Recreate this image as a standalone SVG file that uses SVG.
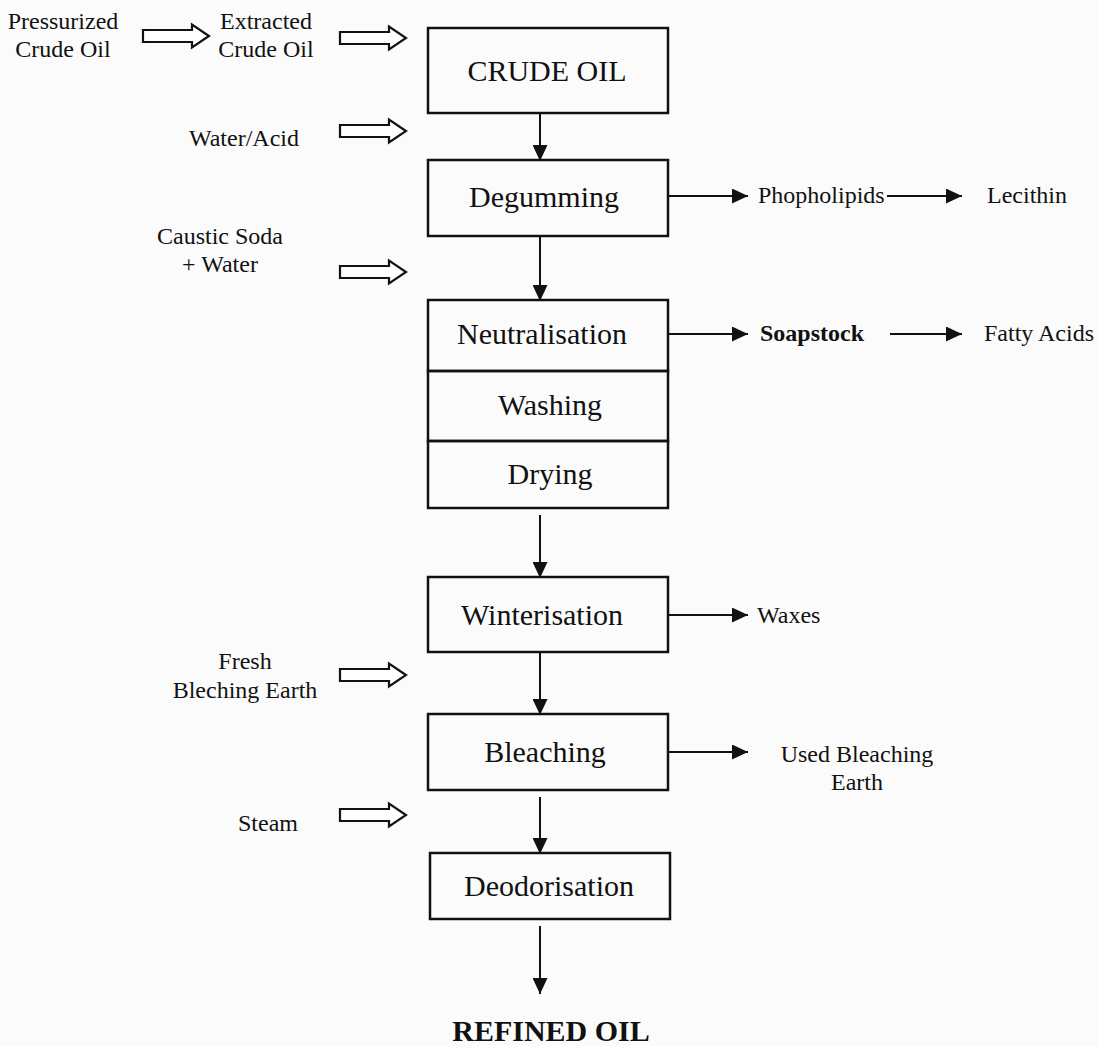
<svg xmlns="http://www.w3.org/2000/svg" width="1098" height="1046" viewBox="0 0 1098 1046">
<style>
text{font-family:"Liberation Serif","Times New Roman",serif;fill:#111;}
.lbl{font-size:24px;text-anchor:middle;}
.lbl-l{font-size:24px;}
.box{fill:none;stroke:#111;stroke-width:2.5;}
.bt{font-size:30px;text-anchor:middle;}
.ln{stroke:#111;stroke-width:2;fill:none;}
.hol{fill:#fff;stroke:#111;stroke-width:2.2;}
</style>
<defs>
<marker id="ah" viewBox="0 0 16 15" refX="16" refY="7.5" markerWidth="16" markerHeight="15" markerUnits="userSpaceOnUse" orient="auto">
<path d="M0,0 L16,7.5 L0,15 Z" fill="#111"/>
</marker>
<path id="hollow" d="M0,-6 H49 V-11.5 L66,0 L49,11.5 V6 H0 Z"/>
</defs>
<rect width="1098" height="1046" fill="#fbfbfb"/>

<g id="inputs">
<g id="in-pressurized"><text class="lbl" x="63" y="29">Pressurized</text><text class="lbl" x="63" y="57">Crude Oil</text></g>
<g id="in-extracted"><text class="lbl" x="266" y="29">Extracted</text><text class="lbl" x="266" y="57">Crude Oil</text></g>
<g id="in-water"><text class="lbl" x="244" y="146">Water/Acid</text></g>
<g id="in-caustic"><text class="lbl" x="220" y="244">Caustic Soda</text><text class="lbl" x="220" y="272">+ Water</text></g>
<g id="in-earth"><text class="lbl" x="245" y="669">Fresh</text><text class="lbl" x="245" y="698">Bleching Earth</text></g>
<g id="in-steam"><text class="lbl" x="268" y="831">Steam</text></g>
</g>

<g id="n-crude"><rect class="box" x="428" y="28" width="240" height="85"/><text class="bt" x="547" y="81">CRUDE OIL</text></g>
<g id="n-degum"><rect class="box" x="428" y="160" width="240" height="76"/><text class="bt" x="544" y="207" font-size="31">Degumming</text></g>
<g id="n-neut"><rect class="box" x="428" y="300" width="240" height="71"/><text class="bt" x="542" y="344" font-size="28">Neutralisation</text></g>
<g id="n-wash"><rect class="box" x="428" y="371" width="240" height="70"/><text class="bt" x="550" y="415">Washing</text></g>
<g id="n-dry"><rect class="box" x="428" y="441" width="240" height="67"/><text class="bt" x="550" y="484">Drying</text></g>
<g id="n-wint"><rect class="box" x="428" y="577" width="240" height="75"/><text class="bt" x="542" y="625" font-size="28">Winterisation</text></g>
<g id="n-bleach"><rect class="box" x="428" y="714" width="240" height="76"/><text class="bt" x="545" y="762" font-size="28">Bleaching</text></g>
<g id="n-deod"><rect class="box" x="430" y="853" width="240" height="66"/><text class="bt" x="549" y="896" font-size="29">Deodorisation</text></g>

<g id="outputs">
<g id="o-phospho"><text class="lbl-l" x="758" y="203">Phopholipids</text></g>
<g id="o-lecithin"><text class="lbl-l" x="987" y="203">Lecithin</text></g>
<g id="o-soap"><text class="lbl-l" x="760" y="341" font-weight="bold">Soapstock</text></g>
<g id="o-fatty"><text class="lbl-l" x="984" y="341">Fatty Acids</text></g>
<g id="o-waxes"><text class="lbl-l" x="757" y="623">Waxes</text></g>
<g id="o-used"><text class="lbl" x="857" y="762">Used Bleaching</text><text class="lbl" x="857" y="790">Earth</text></g>
<g id="o-refined"><text x="551" y="1041" font-size="30" font-weight="bold" text-anchor="middle">REFINED OIL</text></g>
</g>

<g id="connectors">
<use href="#hollow" class="hol" x="143" y="36"/>
<use href="#hollow" class="hol" x="340" y="38"/>
<use href="#hollow" class="hol" x="340" y="131"/>
<use href="#hollow" class="hol" x="340" y="272"/>
<use href="#hollow" class="hol" x="340" y="675"/>
<use href="#hollow" class="hol" x="340" y="815"/>
<line class="ln" x1="540" y1="113" x2="540" y2="161" marker-end="url(#ah)"/>
<line class="ln" x1="540" y1="236" x2="540" y2="301" marker-end="url(#ah)"/>
<line class="ln" x1="540" y1="515" x2="540" y2="578" marker-end="url(#ah)"/>
<line class="ln" x1="540" y1="652" x2="540" y2="715" marker-end="url(#ah)"/>
<line class="ln" x1="540" y1="797" x2="540" y2="854" marker-end="url(#ah)"/>
<line class="ln" x1="540" y1="926" x2="540" y2="994" marker-end="url(#ah)"/>
<line class="ln" x1="668" y1="196" x2="748" y2="196" marker-end="url(#ah)"/>
<line class="ln" x1="887" y1="196" x2="962" y2="196" marker-end="url(#ah)"/>
<line class="ln" x1="668" y1="334" x2="748" y2="334" marker-end="url(#ah)"/>
<line class="ln" x1="890" y1="334" x2="962" y2="334" marker-end="url(#ah)"/>
<line class="ln" x1="668" y1="615" x2="748" y2="615" marker-end="url(#ah)"/>
<line class="ln" x1="668" y1="752" x2="748" y2="752" marker-end="url(#ah)"/>
</g>
</svg>
